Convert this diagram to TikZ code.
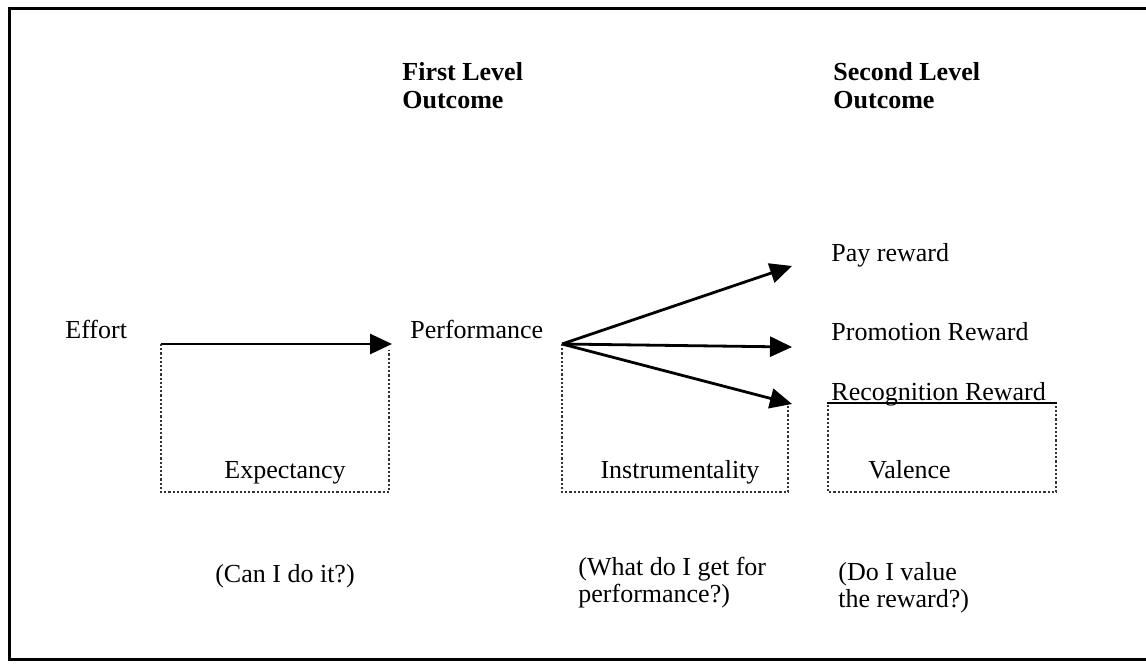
\documentclass[tikz,border=0pt]{standalone}
\usepackage{fontspec}
\setmainfont{Liberation Serif}
\usetikzlibrary{arrows.meta}
\begin{document}
\begin{tikzpicture}[x=0.5pt,y=-0.5pt,
 txt/.style={anchor=base west,inner sep=0pt,font=\fontsize{13}{13}\selectfont},
 ctxt/.style={txt,anchor=base},
 hdr/.style={txt,font=\fontsize{13}{13}\selectfont\bfseries},
 dotbox/.style={draw=black!80,densely dotted,line width=1.1pt},
 arr/.style={line width=1.4pt,-{Triangle[length=11pt,width=10pt]}},
 frame/.style={line width=1.5pt},
 uline/.style={line width=1pt}]
\useasboundingbox (0,0) rectangle (1146,664);
% outer frame (right side cut off)
\coordinate (fr1) at (1146,8);
\coordinate (fr2) at (9,8);
\coordinate (fr3) at (9,659);
\coordinate (fr4) at (1146,659);
\draw[frame] (fr1) -- (fr2) -- (fr3) -- (fr4);
% headers
\node[hdr] (h1a) at (402,80) {First Level};
\node[hdr] (h1b) at (402,108) {Outcome};
\node[hdr] (h2a) at (833,80) {Second Level};
\node[hdr] (h2b) at (833,108) {Outcome};
% labels
\node[txt] (effort) at (65,338) {Effort};
\node[txt] (perf) at (410,338) {Performance};
\node[txt] (pay) at (831,261) {Pay reward};
\node[txt] (promo) at (831,340) {Promotion Reward};
\node[txt] (recog) at (831,400) {Recognition Reward};
% arrow coordinates
\coordinate (e0) at (161,344);
\coordinate (e1) at (392,344);
\coordinate (p0) at (562,344);
\coordinate (t1) at (792,266);
\coordinate (t2) at (792,347);
\coordinate (t3) at (792,404);
\draw[arr] (e0) -- (e1);
\draw[arr] (p0) -- (t1);
\draw[arr] (p0) -- (t2);
\draw[arr] (p0) -- (t3);
% boxes
\coordinate (xb1) at (161,492);
\coordinate (xb2) at (389,492);
\coordinate (xb3) at (389,350);
\draw[dotbox] (e0) -- (xb1) -- (xb2) -- (xb3);
\coordinate (ib1) at (562,492);
\coordinate (ib2) at (788,492);
\coordinate (ib3) at (788,406);
\draw[dotbox] (p0) -- (ib1) -- (ib2) -- (ib3);
\coordinate (v0) at (827,403);
\coordinate (v1) at (1057,403);
\coordinate (vb0) at (828,405);
\coordinate (vb1) at (828,492);
\coordinate (vb2) at (1056,492);
\coordinate (vb3) at (1056,405);
\draw[uline] (v0) -- (v1);
\draw[dotbox] (vb0) -- (vb1) -- (vb2) -- (vb3);
% box texts
\node[ctxt] (expect) at (285,478) {Expectancy};
\node[ctxt] (instr) at (680,478) {Instrumentality};
\node[txt] (val) at (868,478) {Valence};
% questions
\node[ctxt] (q1) at (285,582) {(Can I do it?)};
\node[txt] (q2a) at (578,575) {(What do I get for};
\node[txt] (q2b) at (578,602) {performance?)};
\node[txt] (q3a) at (838,580) {(Do I value};
\node[txt] (q3b) at (838,607) {the reward?)};
\end{tikzpicture}
\end{document}
